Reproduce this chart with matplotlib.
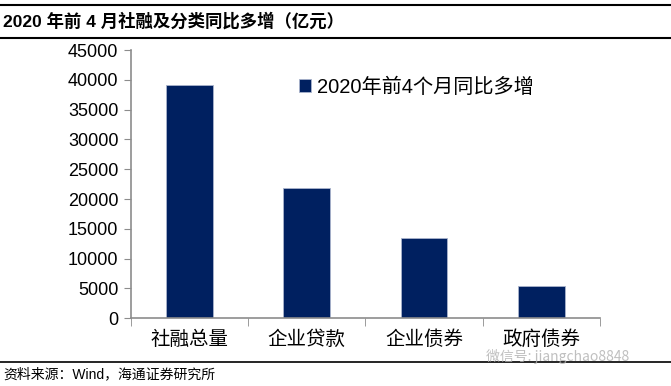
import matplotlib
matplotlib.use("Agg")
import matplotlib.pyplot as plt
from matplotlib.lines import Line2D

plt.rcParams['font.family'] = ['Liberation Sans', 'Noto Sans CJK SC', 'DejaVu Sans']

categories = ["社融总量", "企业贷款", "企业债券", "政府债券"]
values = [39100, 21800, 13500, 5350]
series_name = "2020年前4个月同比多增"
yticks = [0, 5000, 10000, 15000, 20000, 25000, 30000, 35000, 40000, 45000]
title = "2020 年前 4 月社融及分类同比多增（亿元）"
source = "资料来源：Wind，海通证券研究所"

bar_color = "#002060"
axis_color = "#8c8c8c"

fig = plt.figure(figsize=(6.71, 3.86), dpi=100)
ax = fig.add_axes([0.195, 0.176, 0.699, 0.694])

x = list(range(len(categories)))
ax.bar(x, values, width=0.4, color=bar_color, edgecolor="#a9b4cc", linewidth=0.6, label=series_name)

ax.set_xlim(-0.5, len(categories) - 0.5)
ax.set_ylim(0, 45000)
ax.set_yticks(yticks)
ax.set_yticklabels([str(v) for v in yticks], fontsize=13, family=['Liberation Sans'])
ax.set_xticks(x)
ax.set_xticklabels(categories, fontsize=14, family=['Noto Sans CJK SC'])
ax.tick_params(axis='x', length=0, pad=8)
ax.tick_params(axis='y', length=5, color=axis_color, direction='out', pad=4)
ax.set_xticks([i - 0.5 for i in range(len(categories) + 1)], minor=True)
ax.tick_params(axis='x', which='minor', length=6, color=axis_color, direction='out')

for s in ['top', 'right']:
    ax.spines[s].set_visible(False)
for s in ['left', 'bottom']:
    ax.spines[s].set_color(axis_color)
    ax.spines[s].set_linewidth(1.2)

ax.legend(loc='upper left', bbox_to_anchor=(0.32, 0.965), frameon=False,
          prop={'family': ['Liberation Sans', 'Noto Sans CJK SC'], 'size': 14.5},
          handlelength=0.6, handleheight=0.6, handletextpad=0.3)

fig.add_artist(Line2D([0, 1], [1 - 5/386, 1 - 5/386], color='black', lw=1.5))
fig.add_artist(Line2D([0, 1], [1 - 38/386, 1 - 38/386], color='black', lw=1.5))
fig.add_artist(Line2D([0, 1], [1 - 362/386, 1 - 362/386], color='black', lw=1.2))

fig.text(0.005, 1 - 21/386, title, fontsize=12.5, fontweight='bold', va='center', ha='left',
         family=['Liberation Sans', 'Noto Sans CJK SC'])
fig.text(0.005, 1 - 374/386, source, fontsize=10, va='center', ha='left',
         family=['Liberation Sans', 'Noto Sans CJK SC'])
fig.text(0.725, 1 - 356/386, "微信号: jiangchao8848", fontsize=10, color='#b0b0b0', alpha=0.8,
         va='center', ha='left', family=['Noto Sans CJK SC', 'DejaVu Sans'])

fig.savefig("out.png", dpi=100)
